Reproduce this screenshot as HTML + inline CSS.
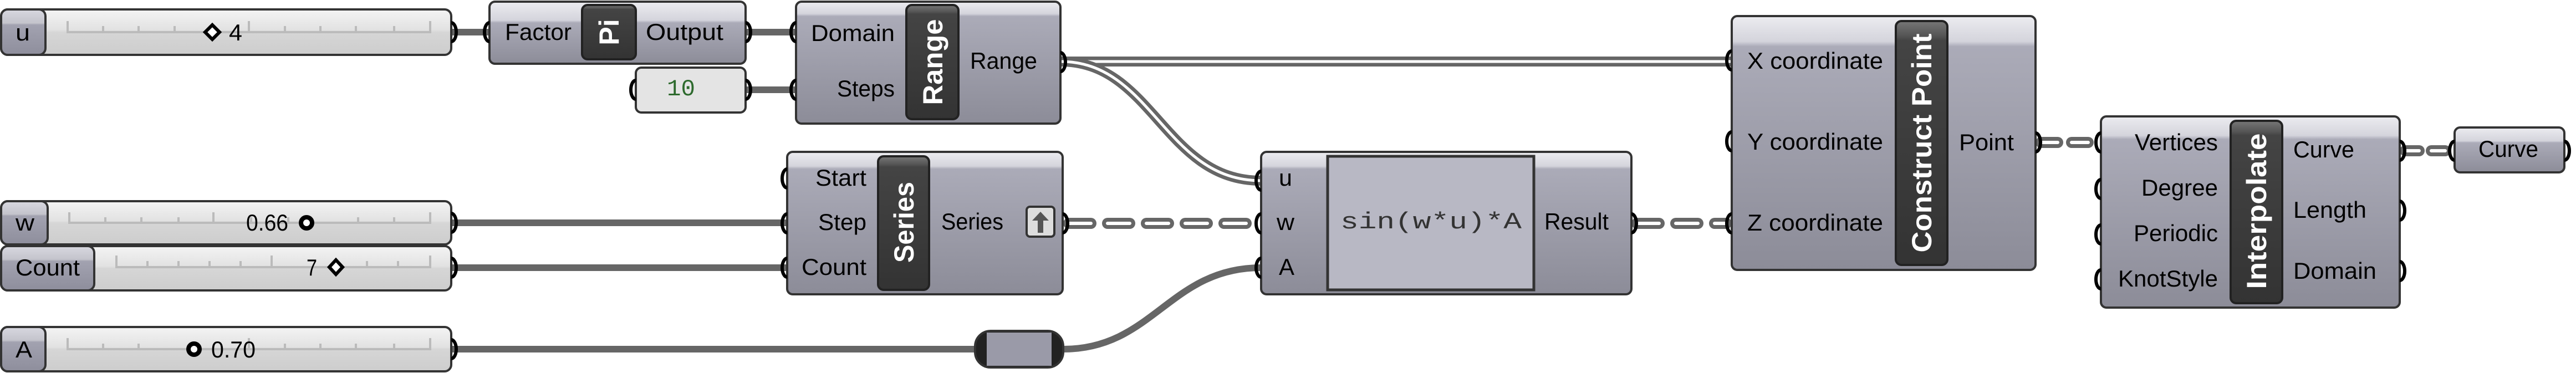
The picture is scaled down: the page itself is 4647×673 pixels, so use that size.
<!DOCTYPE html>
<html><head><meta charset="utf-8"><style>
html,body{margin:0;padding:0;background:#fff;}
svg{display:block;}
text{font-family:"Liberation Sans",sans-serif;font-size:42px;fill:#000;}
.m{font-family:"Liberation Mono",monospace;}
.ic{font-weight:bold;fill:#fff;font-size:50px;}
</style></head><body>
<svg width="4647" height="673" viewBox="0 0 4647 673" xmlns="http://www.w3.org/2000/svg">
<defs>
<linearGradient id="bd" x1="0" y1="0" x2="0" y2="1">
<stop offset="0" stop-color="#ececf0"/><stop offset="0.1" stop-color="#d4d4dc"/><stop offset="0.12" stop-color="#ababb8"/><stop offset="1" stop-color="#8c8c98"/></linearGradient>
<linearGradient id="bs" x1="0" y1="0" x2="0" y2="1">
<stop offset="0" stop-color="#ececf0"/><stop offset="0.3" stop-color="#d4d4dc"/><stop offset="0.34" stop-color="#ababb8"/><stop offset="1" stop-color="#8c8c98"/></linearGradient>
<linearGradient id="ic" x1="0" y1="0" x2="0" y2="1">
<stop offset="0" stop-color="#777"/><stop offset="0.06" stop-color="#555"/><stop offset="0.08" stop-color="#444"/><stop offset="1" stop-color="#333"/></linearGradient>
<linearGradient id="sl" x1="0" y1="0" x2="0" y2="1">
<stop offset="0" stop-color="#f4f4f4"/><stop offset="0.45" stop-color="#e2e2e2"/><stop offset="0.5" stop-color="#d6d6d6"/><stop offset="1" stop-color="#cdcdcd"/></linearGradient>
<linearGradient id="lb" x1="0" y1="0" x2="0" y2="1">
<stop offset="0" stop-color="#d8d8e0"/><stop offset="0.3" stop-color="#c4c4cc"/><stop offset="0.34" stop-color="#a2a2b0"/><stop offset="1" stop-color="#8e8e9c"/></linearGradient>
</defs>

<!-- WIRES -->
<g fill="none" stroke-linecap="butt">
<path d="M814 58 H883" stroke="#666" stroke-width="12"/>
<path d="M1345 58 H1436" stroke="#666" stroke-width="12"/>
<path d="M1345 162 H1436" stroke="#666" stroke-width="12"/>
<path d="M814 402 H1420" stroke="#666" stroke-width="12"/>
<path d="M814 483 H1420" stroke="#666" stroke-width="12"/>
<path d="M814 630 H1759" stroke="#666" stroke-width="12"/>
<path d="M1918 630 C2080 630 2110 483 2275 483" stroke="#666" stroke-width="12"/>
<path d="M1913 111 H3124" stroke="#666" stroke-width="18"/>
<path d="M1913 111 H3124" stroke="#fff" stroke-width="5"/>
<path d="M1913 111 C2080 111 2100 326 2275 326" stroke="#666" stroke-width="18"/>
<path d="M1913 111 C2080 111 2100 326 2275 326" stroke="#fff" stroke-width="5"/>
<g stroke-linecap="round">
<path d="M1928 403 H2265" stroke="#666" stroke-width="20" stroke-dasharray="40 30"/>
<path d="M1928 403 H2265" stroke="#fff" stroke-width="6" stroke-dasharray="40 30"/>
<path d="M2953 403 H3114" stroke="#666" stroke-width="20" stroke-dasharray="40 30"/>
<path d="M2953 403 H3114" stroke="#fff" stroke-width="6" stroke-dasharray="40 30"/>
<path d="M3682 257 H3780" stroke="#666" stroke-width="20" stroke-dasharray="30 25"/>
<path d="M3682 257 H3780" stroke="#fff" stroke-width="6" stroke-dasharray="30 25"/>
<path d="M4339 272 H4418" stroke="#666" stroke-width="20" stroke-dasharray="25 22"/>
<path d="M4339 272 H4418" stroke="#fff" stroke-width="6" stroke-dasharray="25 22"/>
</g>
</g>

<!-- SLIDERS -->
<g stroke="#333" stroke-width="4">
<rect x="2" y="17" width="812" height="82" rx="12" fill="url(#sl)"/>
<rect x="2" y="17" width="80" height="82" rx="12" fill="url(#lb)"/>
<rect x="2" y="363" width="812" height="78" rx="12" fill="url(#sl)"/>
<rect x="2" y="363" width="84" height="78" rx="12" fill="url(#lb)"/>
<rect x="2" y="444" width="812" height="80" rx="12" fill="url(#sl)"/>
<rect x="2" y="444" width="168" height="80" rx="12" fill="url(#lb)"/>
<rect x="2" y="590" width="812" height="80" rx="12" fill="url(#sl)"/>
<rect x="2" y="590" width="80" height="80" rx="12" fill="url(#lb)"/>
</g>
<g stroke="#bbb" stroke-width="4" fill="none">
<path d="M122 38 V58 H776 V38 M186 47V58 M250 47V58 M315 47V58 M449 38V58 M514 47V58 M578 47V58 M642 47V58 M711 47V58"/>
<path d="M125 383 V402 H776 V383 M190 392V402 M255 392V402 M322 392V402 M385 383V402 M453 392V402 M520 392V402 M646 392V402 M711 392V402"/>
<path d="M210 461 V482 H776 V461 M266 471V482 M322 471V482 M378 471V482 M434 471V482 M490 461V482 M602 471V482 M662 471V482 M718 471V482"/>
<path d="M122 610 V630 H776 V610 M186 620V630 M250 620V630 M449 610V630 M514 620V630 M578 620V630 M642 620V630 M711 620V630"/>
</g>
<path d="M383 45 L396 58 L383 71 L370 58 Z" fill="#fff" stroke="#000" stroke-width="6"/>
<path d="M606 469 L618 482 L606 495 L594 482 Z" fill="#fff" stroke="#000" stroke-width="6"/>
<circle cx="553" cy="402" r="10" fill="#fff" stroke="#000" stroke-width="8"/>
<circle cx="350" cy="630" r="10" fill="#fff" stroke="#000" stroke-width="8"/>
<text x="28" y="73" textLength="26" lengthAdjust="spacingAndGlyphs">u</text>
<text x="413" y="73" textLength="24" lengthAdjust="spacingAndGlyphs">4</text>
<text x="28" y="416" textLength="34" lengthAdjust="spacingAndGlyphs">w</text>
<text x="444" y="416" textLength="76" lengthAdjust="spacingAndGlyphs">0.66</text>
<text x="28" y="497" textLength="116" lengthAdjust="spacingAndGlyphs">Count</text>
<text x="553" y="497" textLength="19" lengthAdjust="spacingAndGlyphs">7</text>
<text x="28" y="645" textLength="30" lengthAdjust="spacingAndGlyphs">A</text>
<text x="381" y="645" textLength="80" lengthAdjust="spacingAndGlyphs">0.70</text>

<!-- COMPONENTS -->
<g stroke="#333" stroke-width="4">
<rect x="883" y="3" width="462" height="112" rx="10" fill="url(#bs)"/>
<rect x="1147" y="122" width="198" height="81" rx="10" fill="#e4e4e4"/>
<rect x="1436" y="3" width="477" height="220" rx="10" fill="url(#bd)"/>
<rect x="1420" y="274" width="497" height="257" rx="10" fill="url(#bd)"/>
<rect x="2275" y="274" width="668" height="257" rx="10" fill="url(#bd)"/>
<rect x="3124" y="29" width="548" height="458" rx="10" fill="url(#bd)"/>
<rect x="3790" y="210" width="539" height="345" rx="10" fill="url(#bd)"/>
<rect x="4428" y="230" width="198" height="81" rx="10" fill="url(#bs)"/>
<rect x="1759" y="597" width="159" height="66" rx="28" fill="#222"/>
<rect x="1780" y="600" width="117" height="60" fill="#9a9aa8" stroke="none"/>
<rect x="2395" y="282" width="372" height="241" fill="#b8b8c4" stroke-width="5"/>
</g>
<!-- icons -->
<g stroke="#222" stroke-width="4">
<rect x="1050" y="9" width="97" height="98" rx="10" fill="url(#ic)"/>
<rect x="1635" y="9" width="94" height="206" rx="10" fill="url(#ic)"/>
<rect x="1584" y="282" width="92" height="241" rx="10" fill="url(#ic)"/>
<rect x="3420" y="38" width="93" height="440" rx="10" fill="url(#ic)"/>
<rect x="4024" y="218" width="93" height="329" rx="10" fill="url(#ic)"/>
</g>
<text class="ic" transform="translate(1116 58) rotate(-90)" text-anchor="middle" font-size="56">Pi</text>
<text class="ic" transform="translate(1700 112) rotate(-90)" text-anchor="middle" textLength="155" lengthAdjust="spacingAndGlyphs">Range</text>
<text class="ic" transform="translate(1648 401) rotate(-90)" text-anchor="middle" textLength="146" lengthAdjust="spacingAndGlyphs">Series</text>
<text class="ic" transform="translate(3484 258) rotate(-90)" text-anchor="middle" textLength="395" lengthAdjust="spacingAndGlyphs">Construct Point</text>
<text class="ic" transform="translate(4088 381) rotate(-90)" text-anchor="middle" textLength="281" lengthAdjust="spacingAndGlyphs">Interpolate</text>
<!-- up button -->
<rect x="1852" y="373" width="50" height="54" rx="6" fill="#ddd" stroke="#333" stroke-width="4"/>
<path d="M1877 382 L1892 398 H1882 V420 H1872 V398 H1862 Z" fill="#555"/>

<!-- labels -->
<text x="911" y="72" textLength="120" lengthAdjust="spacingAndGlyphs">Factor</text>
<text x="1165" y="72" textLength="140" lengthAdjust="spacingAndGlyphs">Output</text>
<text class="m" x="1203" y="172" textLength="51" lengthAdjust="spacingAndGlyphs" style="fill:#2d6a2d">10</text>
<text x="1463" y="74" textLength="151" lengthAdjust="spacingAndGlyphs">Domain</text>
<text x="1510" y="174" textLength="104" lengthAdjust="spacingAndGlyphs">Steps</text>
<text x="1750" y="124" textLength="121" lengthAdjust="spacingAndGlyphs">Range</text>
<text x="1471" y="335" textLength="92" lengthAdjust="spacingAndGlyphs">Start</text>
<text x="1476" y="415" textLength="87" lengthAdjust="spacingAndGlyphs">Step</text>
<text x="1446" y="496" textLength="117" lengthAdjust="spacingAndGlyphs">Count</text>
<text x="1698" y="414" textLength="112" lengthAdjust="spacingAndGlyphs">Series</text>
<text x="2307" y="335" textLength="24" lengthAdjust="spacingAndGlyphs">u</text>
<text x="2303" y="415" textLength="32" lengthAdjust="spacingAndGlyphs">w</text>
<text x="2307" y="496" textLength="28" lengthAdjust="spacingAndGlyphs">A</text>
<text class="m" x="2418" y="412" textLength="327" lengthAdjust="spacingAndGlyphs" style="fill:#333">sin(w*u)*A</text>
<text x="2786" y="414" textLength="116" lengthAdjust="spacingAndGlyphs">Result</text>
<text x="3152" y="124" textLength="245" lengthAdjust="spacingAndGlyphs">X coordinate</text>
<text x="3152" y="270" textLength="245" lengthAdjust="spacingAndGlyphs">Y coordinate</text>
<text x="3152" y="416" textLength="245" lengthAdjust="spacingAndGlyphs">Z coordinate</text>
<text x="3534" y="271" textLength="99" lengthAdjust="spacingAndGlyphs">Point</text>
<text x="3851" y="271" textLength="150" lengthAdjust="spacingAndGlyphs">Vertices</text>
<text x="3863" y="353" textLength="138" lengthAdjust="spacingAndGlyphs">Degree</text>
<text x="3849" y="435" textLength="152" lengthAdjust="spacingAndGlyphs">Periodic</text>
<text x="3821" y="517" textLength="180" lengthAdjust="spacingAndGlyphs">KnotStyle</text>
<text x="4137" y="284" textLength="110" lengthAdjust="spacingAndGlyphs">Curve</text>
<text x="4137" y="393" textLength="132" lengthAdjust="spacingAndGlyphs">Length</text>
<text x="4137" y="503" textLength="150" lengthAdjust="spacingAndGlyphs">Domain</text>
<text x="4471" y="283" textLength="108" lengthAdjust="spacingAndGlyphs">Curve</text>

<!-- grips -->
<g fill="none" stroke="#000" stroke-width="6">
<path d="M814 41 A9 17 0 0 1 814 75"/>
<path d="M814 385 A9 17 0 0 1 814 419"/>
<path d="M814 466 A9 17 0 0 1 814 500"/>
<path d="M814 613 A9 17 0 0 1 814 647"/>
<path d="M1345 41 A9 17 0 0 1 1345 75"/>
<path d="M1345 145 A9 17 0 0 1 1345 179"/>
<path d="M1913 95 A9 17 0 0 1 1913 129"/>
<path d="M1917 386 A9 17 0 0 1 1917 420"/>
<path d="M2943 386 A9 17 0 0 1 2943 420"/>
<path d="M3672 240 A9 17 0 0 1 3672 274"/>
<path d="M4329 255 A9 17 0 0 1 4329 289"/>
<path d="M4329 363 A9 17 0 0 1 4329 397"/>
<path d="M4329 472 A9 17 0 0 1 4329 506"/>
<path d="M4626 255 A9 17 0 0 1 4626 289"/>
<path d="M883 41 A9 17 0 0 0 883 75"/>
<path d="M1147 145 A9 17 0 0 0 1147 179"/>
<path d="M1436 41 A9 17 0 0 0 1436 75"/>
<path d="M1436 145 A9 17 0 0 0 1436 179"/>
<path d="M1420 305 A9 17 0 0 0 1420 339"/>
<path d="M1420 386 A9 17 0 0 0 1420 420"/>
<path d="M1420 466 A9 17 0 0 0 1420 500"/>
<path d="M2275 309 A9 17 0 0 0 2275 343"/>
<path d="M2275 386 A9 17 0 0 0 2275 420"/>
<path d="M2275 466 A9 17 0 0 0 2275 500"/>
<path d="M3124 92 A9 17 0 0 0 3124 126"/>
<path d="M3124 238 A9 17 0 0 0 3124 272"/>
<path d="M3124 386 A9 17 0 0 0 3124 420"/>
<path d="M3790 240 A9 17 0 0 0 3790 274"/>
<path d="M3790 324 A9 17 0 0 0 3790 358"/>
<path d="M3790 406 A9 17 0 0 0 3790 440"/>
<path d="M3790 487 A9 17 0 0 0 3790 521"/>
<path d="M4428 255 A9 17 0 0 0 4428 289"/>
</g>
</svg>
</body></html>
